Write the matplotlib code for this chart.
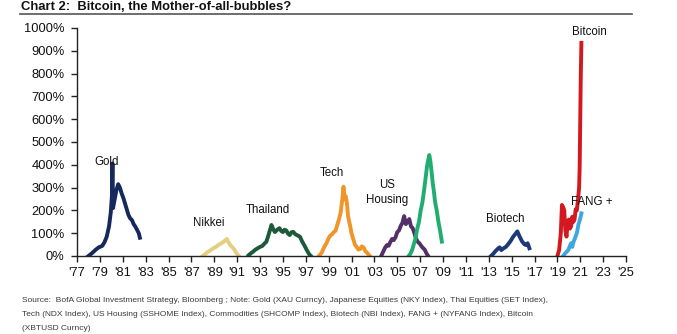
import matplotlib
matplotlib.use("Agg")
import matplotlib.pyplot as plt
from matplotlib.lines import Line2D

plt.rcParams['font.family'] = ['Liberation Sans', 'DejaVu Sans']

# each bubble: time (decimal years) and % gain
gold_t = [1978.0, 1978.3, 1978.6, 1978.9, 1979.2, 1979.4, 1979.6, 1979.8, 1979.95, 1980.05, 1980.1,
          1980.15, 1980.3, 1980.45, 1980.6, 1980.75, 1980.9, 1981.05, 1981.2, 1981.35, 1981.5,
          1981.65, 1981.8, 1981.95, 1982.1, 1982.25, 1982.4, 1982.5]
gold = [0, 12, 26, 38, 44, 60, 85, 130, 190, 260, 406, 210, 250, 290, 315, 300, 275, 255, 230,
        205, 180, 165, 158, 140, 129, 115, 100, 80]

nikkei_t = [1988.0, 1988.2, 1988.4, 1988.6, 1988.8, 1989.0, 1989.2, 1989.4, 1989.6, 1989.8,
            1990.0, 1990.1, 1990.25, 1990.4, 1990.55, 1990.7, 1990.85, 1991.0, 1991.15]
nikkei = [0, 8, 17, 22, 30, 36, 42, 50, 55, 62, 70, 75, 60, 48, 40, 32, 20, 8, 0]

thai_t = [1992.0, 1992.2, 1992.4, 1992.6, 1992.8, 1993.0, 1993.2, 1993.4, 1993.55, 1993.7,
          1993.85, 1994.0, 1994.15, 1994.3, 1994.5, 1994.7, 1994.85, 1995.0, 1995.15, 1995.3,
          1995.45, 1995.6, 1995.75, 1995.9, 1996.1, 1996.3, 1996.5, 1996.7, 1996.9, 1997.1,
          1997.3, 1997.45]
thai = [3, 12, 19, 28, 34, 40, 44, 55, 62, 85, 110, 136, 118, 105, 115, 122, 110, 105, 115, 112,
        98, 92, 104, 106, 95, 90, 84, 62, 45, 25, 8, 0]

tech_t = [1998.2, 1998.4, 1998.6, 1998.8, 1999.0, 1999.15, 1999.3, 1999.45, 1999.6, 1999.75,
          1999.9, 2000.05, 2000.2, 2000.3, 2000.4, 2000.5, 2000.6, 2000.7, 2000.8, 2000.9,
          2001.0, 2001.15, 2001.3, 2001.45, 2001.6, 2001.75, 2001.9, 2002.05, 2002.2, 2002.4,
          2002.6]
tech = [3, 15, 38, 55, 78, 90, 95, 105, 110, 135, 160, 190, 250, 304, 250, 262, 230, 175, 150,
        128, 100, 75, 50, 40, 28, 30, 42, 38, 22, 12, 0]

house_t = [2003.6, 2003.8, 2003.95, 2004.1, 2004.25, 2004.4, 2004.55, 2004.7, 2004.85, 2005.0,
           2005.15, 2005.3, 2005.45, 2005.6, 2005.75, 2005.9, 2006.05, 2006.2, 2006.35, 2006.5,
           2006.65, 2006.8, 2006.95, 2007.1, 2007.25, 2007.4, 2007.55, 2007.7]
house = [0, 22, 38, 48, 45, 62, 75, 70, 82, 105, 112, 132, 145, 175, 140, 150, 162, 130, 122,
         100, 75, 62, 55, 44, 35, 28, 12, 0]

comm_t = [2006.0, 2006.15, 2006.3, 2006.45, 2006.6, 2006.75, 2006.9, 2007.05, 2007.2, 2007.35,
          2007.5, 2007.6, 2007.7, 2007.8, 2007.9, 2008.0, 2008.1, 2008.2, 2008.3, 2008.45,
          2008.6, 2008.75, 2008.9]
comm = [0, 10, 26, 52, 78, 120, 150, 200, 235, 290, 350, 392, 420, 443, 415, 370, 320, 285, 240,
        200, 150, 110, 63]

bio_t = [2013.2, 2013.4, 2013.6, 2013.8, 2013.95, 2014.1, 2014.3, 2014.5, 2014.7, 2014.9,
         2015.1, 2015.3, 2015.5, 2015.7, 2015.9, 2016.1, 2016.25, 2016.4, 2016.55]
bio = [0, 10, 22, 32, 38, 26, 34, 40, 52, 65, 82, 95, 108, 85, 65, 52, 48, 56, 34]

btc_t = [2019.0, 2019.15, 2019.3, 2019.4, 2019.5, 2019.6, 2019.7, 2019.8, 2019.9, 2020.0, 2020.1,
         2020.2, 2020.3, 2020.4, 2020.5, 2020.6, 2020.7, 2020.8, 2020.9, 2020.95, 2021.0,
         2021.05, 2021.1]
btc = [0, 25, 100, 224, 215, 200, 110, 85, 150, 160, 120, 130, 172, 150, 160, 205, 200, 245, 300,
       390, 600, 800, 935]

fang_t = [2019.5, 2019.65, 2019.8, 2019.95, 2020.1, 2020.2, 2020.3, 2020.4, 2020.55, 2020.7,
          2020.85, 2021.0, 2021.1]
fang = [0, 10, 18, 26, 45, 56, 40, 60, 80, 100, 140, 165, 187]

year_ticks = list(range(1977, 2026, 2))
pct_ticks = list(range(0, 1001, 100))

series = [
    (gold_t, gold, '#16295a'),
    (nikkei_t, nikkei, '#e4cf80'),
    (thai_t, thai, '#1d5a3a'),
    (tech_t, tech, '#f0952a'),
    (house_t, house, '#553068'),
    (comm_t, comm, '#22ad70'),
    (bio_t, bio, '#1d3a78'),
    (btc_t, btc, '#d3191f'),
    (fang_t, fang, '#3ea8de'),
]

labels = [
    ('Gold', 1979.6, 412),
    ('Nikkei', 1988.5, 143),
    ('Thailand', 1993.7, 202),
    ('Tech', 1999.3, 363),
    ('US\nHousing', 2004.1, 278),
    ('Biotech', 2014.4, 161),
    ('FANG +', 2022.0, 238),
    ('Bitcoin', 2021.8, 984),
]

fig = plt.figure(figsize=(6.77, 3.34), dpi=100)
ax = fig.add_axes([77 / 677, 78 / 334, 549 / 677, 228 / 334])

for t, v, c in series:
    ax.plot(t, v, color=c, lw=2.8, solid_joinstyle='round')

for txt, x, y in labels:
    ax.text(x, y, txt, ha='center', va='center', fontsize=8.3, color='#111111',
            linespacing=1.3)

ax.set_xlim(1977, 2025)
ax.set_ylim(0, 1000)
ax.set_xticks(year_ticks)
ax.set_xticklabels(["'%02d" % (y % 100) for y in year_ticks])
ax.set_yticks(pct_ticks)
ax.set_yticklabels(['%d%%' % p for p in pct_ticks])
ax.tick_params(axis='both', direction='out', length=4, width=1, color='#222222',
               labelsize=9.3, labelcolor='#111111')
ax.tick_params(axis='x', pad=4)
ax.tick_params(axis='y', pad=5)
for s in ['top', 'right']:
    ax.spines[s].set_visible(False)
for s in ['left', 'bottom']:
    ax.spines[s].set_color('#222222')
    ax.spines[s].set_linewidth(1)

# title (top cropped) and rule underneath
fig.text(21 / 677, 1 - 9.5 / 334, 'Chart 2:  Bitcoin, the Mother-of-all-bubbles?',
         fontsize=9.4, fontweight='bold', va='baseline', ha='left', color='#111111')
fig.add_artist(Line2D([20 / 677, 632 / 677], [1 - 13.5 / 334, 1 - 13.5 / 334],
                      color='#555555', lw=1.2))

source = [
    'Source:  BofA Global Investment Strategy, Bloomberg ; Note: Gold (XAU Curncy), Japanese Equities (NKY Index), Thai Equities (SET Index),',
    'Tech (NDX Index), US Housing (SSHOME Index), Commodities (SHCOMP Index), Biotech (NBI Index), FANG + (NYFANG Index), Bitcoin',
    '(XBTUSD Curncy)',
]
for i, line in enumerate(source):
    fig.text(22 / 677, 1 - (302 + 14 * i) / 334, line, fontsize=6.05, va='baseline',
             ha='left', color='#3a3a3a')

fig.savefig('out.png', dpi=100, facecolor='white')
